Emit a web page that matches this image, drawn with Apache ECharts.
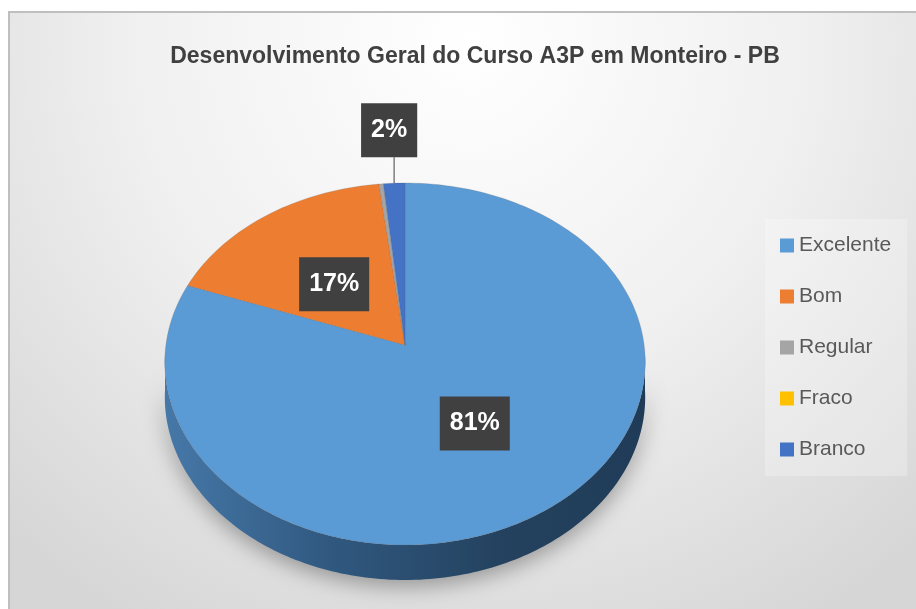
<!DOCTYPE html>
<html>
<head>
<meta charset="utf-8">
<script src="https://cdn.jsdelivr.net/npm/echarts@6/dist/echarts.min.js"></script>
<style>
html, body { margin: 0; padding: 0; background: #fff; }
#main { width: 916px; height: 609px; }
</style>
</head>
<body>
<div id="main"></div>
<script>
var categories = ['Excelente', 'Bom', 'Regular', 'Fraco', 'Branco'];
var shares = [81.4, 16.8, 0.3, 0, 1.5];
var colors = ['#5b9bd5', '#ed7d31', '#a5a5a5', '#ffc000', '#4472c4'];

var total = shares.reduce(function (s, c) { return s + c; }, 0);
var starts = [];
var acc = 0;
for (var i = 0; i < shares.length; i++) {
  starts.push(acc / total);
  acc += shares[i];
}

// fake 3d pie geometry
var cx = 405, cy = 355, rx = 240, ry = 181, bulge = 9, depth = 35;
var apex = [405, 345];

function rim(t) {
  var a = Math.sin(t), b = -Math.cos(t);
  return [cx + rx * a * (1 + 0.04 * b), cy + ry * b + bulge * b * b];
}
function arc(t0, t1) {
  var pts = [];
  var n = Math.max(2, Math.ceil((t1 - t0) / 0.02));
  for (var k = 0; k <= n; k++) pts.push(rim(t0 + (t1 - t0) * k / n));
  return pts;
}

function renderSlice(params, api) {
  var i = params.seriesIndex;
  var v = api.value(0);
  if (!v) return;
  var t0 = starts[i] * 2 * Math.PI;
  var t1 = t0 + v / total * 2 * Math.PI;
  var children = [];

  // side wall, only the front half shows
  var s0 = Math.max(t0, Math.PI / 2), s1 = Math.min(t1, Math.PI * 1.5);
  if (s1 > s0) {
    var top = arc(s0, s1);
    var bottom = top.map(function (p) { return [p[0], p[1] + depth]; }).reverse();
    children.push({
      type: 'polygon',
      shape: { points: top.concat(bottom) },
      style: {
        fill: {
          type: 'linear', x: 0, y: 0, x2: 1, y2: 0,
          colorStops: [
            { offset: 0, color: '#4678a8' },
            { offset: 0.35, color: '#30587f' },
            { offset: 0.7, color: '#24425f' },
            { offset: 1, color: '#1f3b57' }
          ]
        },
        shadowBlur: 22,
        shadowColor: 'rgba(0,0,0,0.35)',
        shadowOffsetY: 6
      }
    });
  }

  children.push({
    type: 'polygon',
    shape: { points: [apex].concat(arc(t0, t1)) },
    style: { fill: colors[i], stroke: 'rgba(90,90,90,0.35)', lineWidth: 0.6 }
  });

  var pct = Math.round(v / total * 100);
  if (pct >= 1) {
    var tm = (t0 + t1) / 2;
    var p = rim(tm);
    var lx, ly;
    if (v / total < 0.05) {
      // small slice: label above, with a vertical leader
      lx = p[0] - 5;
      ly = p[1] - 53;
      children.push({
        type: 'line',
        shape: { x1: p[0], y1: p[1], x2: p[0], y2: p[1] - 26 },
        style: { stroke: '#7f7f7f', lineWidth: 1.5 }
      });
    } else {
      lx = apex[0] + (p[0] - apex[0]) * 0.51;
      ly = apex[1] + (p[1] - apex[1]) * 0.47;
    }
    children.push({
      type: 'text',
      x: lx,
      y: ly,
      z2: 10,
      style: {
        text: pct + '%',
        fill: '#fff',
        font: 'bold 25px "Liberation Sans", Arial, sans-serif',
        lineHeight: 25,
        align: 'center',
        verticalAlign: 'middle',
        backgroundColor: '#404040',
        padding: [15, 10, 14, 10],
        boxShadowBlur: 4,
        boxShadowColor: 'rgba(0,0,0,0.45)',
        boxShadowOffsetX: 2,
        boxShadowOffsetY: 2
      }
    });
  }
  return { type: 'group', children: children };
}

var chartDom = document.getElementById('main');
var myChart = echarts.init(chartDom, null, { renderer: 'canvas' });

var series = categories.map(function (name, i) {
  return {
    name: name,
    type: 'custom',
    coordinateSystem: 'none',
    itemStyle: { color: colors[i] },
    renderItem: renderSlice,
    data: [[shares[i]]]
  };
});

var option = {
  backgroundColor: '#fff',
  animation: false,
  graphic: [{
    type: 'rect',
    z: -10,
    shape: { x: 9, y: 12, width: 920, height: 610 },
    style: {
      fill: {
        type: 'radial', x: 0.5, y: 0.05, r: 1.1,
        colorStops: [
          { offset: 0, color: '#ffffff' },
          { offset: 0.5, color: '#f0f0f0' },
          { offset: 1, color: '#d6d6d6' }
        ]
      },
      stroke: '#bfbfbf',
      lineWidth: 2
    }
  }],
  title: {
    text: 'Desenvolvimento Geral do Curso A3P em Monteiro - PB',
    left: 470,
    top: 40,
    textAlign: 'center',
    textStyle: {
      fontFamily: '"Liberation Sans", Arial, sans-serif',
      fontWeight: 'bold',
      fontSize: 23,
      color: '#404040'
    }
  },
  legend: {
    orient: 'vertical',
    left: 765,
    top: 219,
    padding: [16, 16, 16, 15],
    backgroundColor: 'rgba(255,255,255,0.25)',
    icon: 'rect',
    itemWidth: 14,
    itemHeight: 14,
    itemGap: 30,
    data: categories,
    textStyle: {
      fontFamily: '"Liberation Sans", Arial, sans-serif',
      fontSize: 21,
      lineHeight: 20,
      color: '#595959'
    }
  },
  series: series
};

option && myChart.setOption(option);
</script>
</body>
</html>
